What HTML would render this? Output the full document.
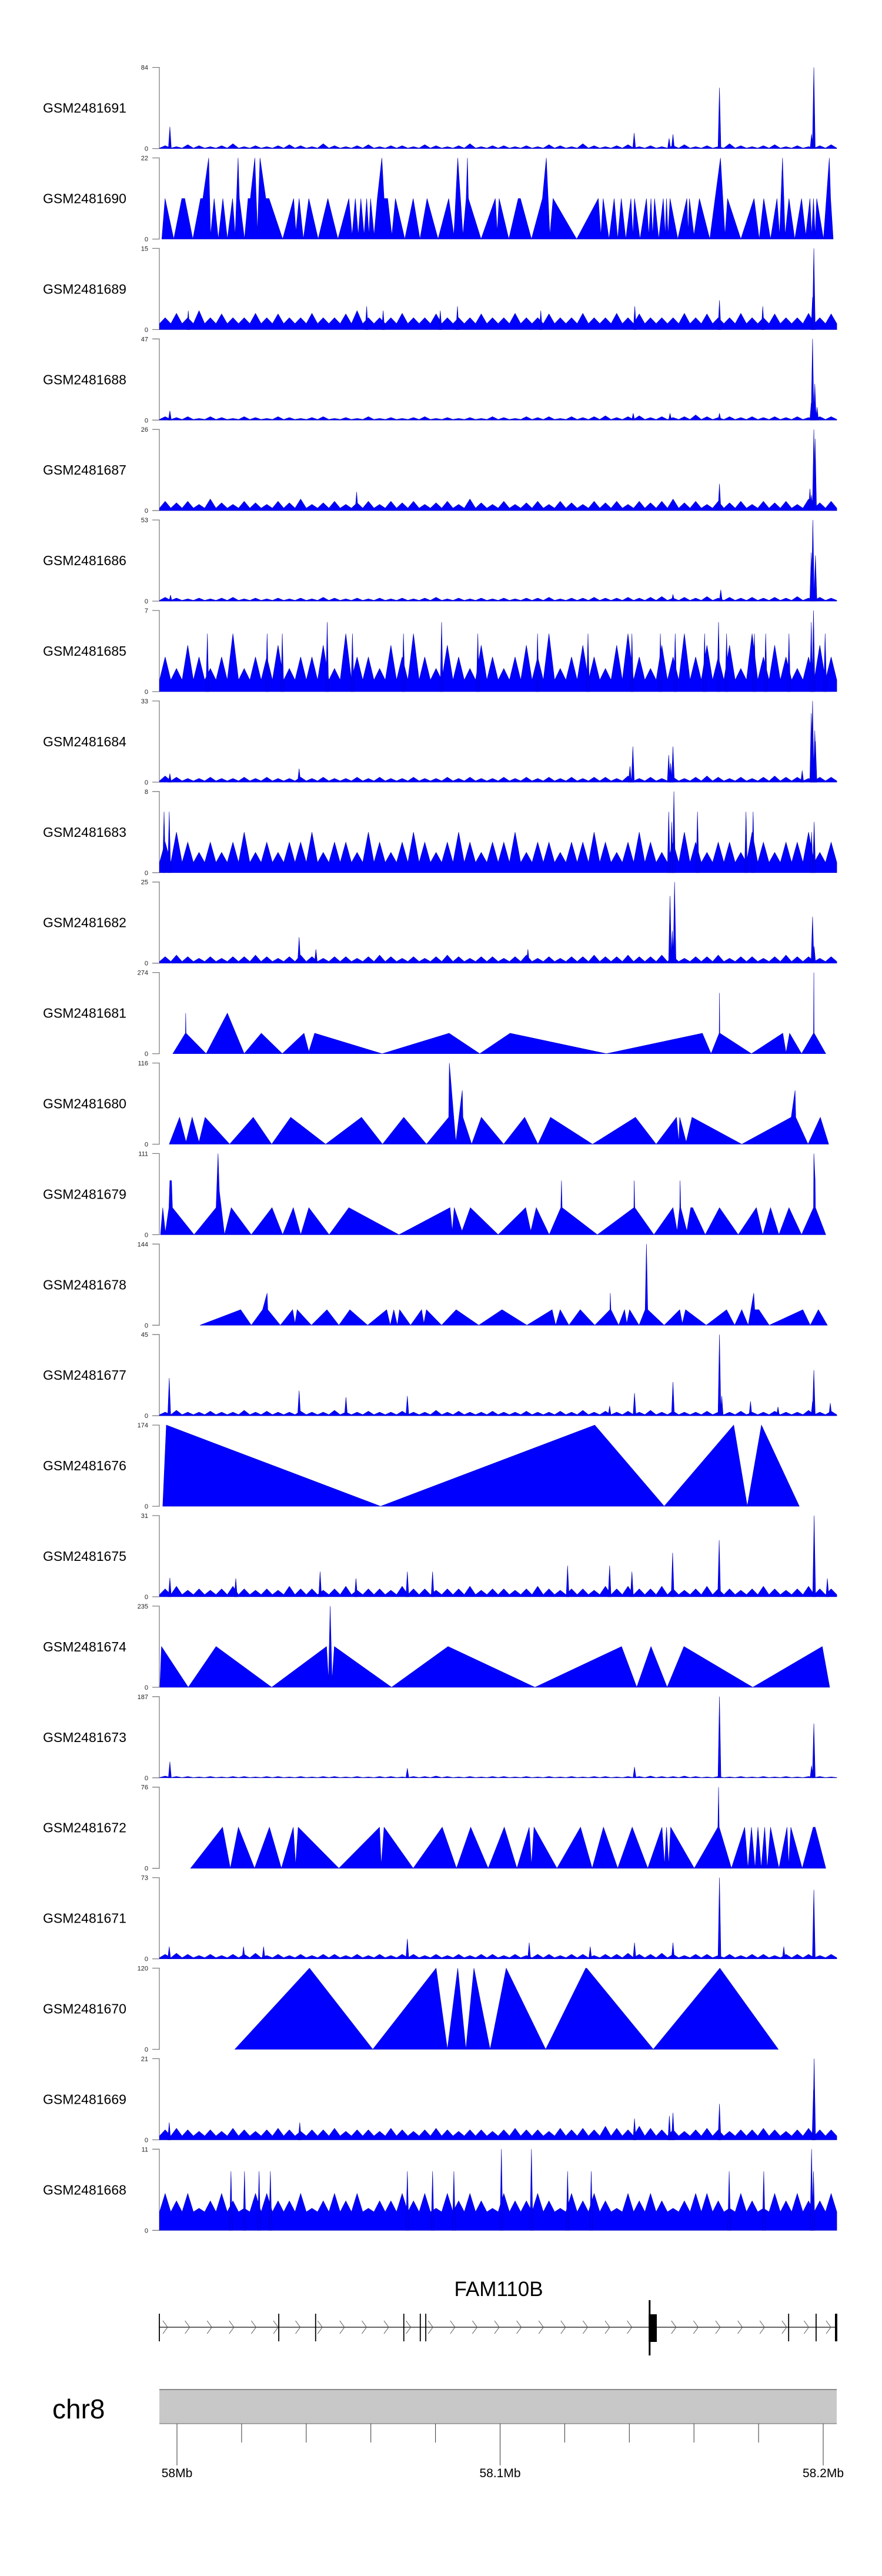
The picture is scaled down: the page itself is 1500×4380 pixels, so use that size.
<!DOCTYPE html>
<html><head><meta charset="utf-8">
<style>
html,body{margin:0;padding:0;background:#fff;}
#wrap{position:relative;width:1500px;height:4380px;overflow:hidden;}
svg{position:absolute;left:0;top:0;}
text{font-family:"Liberation Sans",sans-serif;}
</style></head>
<body>
<div id="wrap">
<svg id="chart" width="1500" height="4380" viewBox="0 0 1500 4380"></svg>
</div>
<script>
// ---------- data ----------
const sampleNames = ["GSM2481691","GSM2481690","GSM2481689","GSM2481688","GSM2481687","GSM2481686","GSM2481685","GSM2481684","GSM2481683","GSM2481682","GSM2481681","GSM2481680","GSM2481679","GSM2481678","GSM2481677","GSM2481676","GSM2481675","GSM2481674","GSM2481673","GSM2481672","GSM2481671","GSM2481670","GSM2481669","GSM2481668"];
const maxValues = [84,22,15,47,26,53,7,33,8,25,274,116,111,144,45,174,31,235,187,76,73,120,21,11];
const axisTicksMb = [58.0,58.02,58.04,58.06,58.08,58.1,58.12,58.14,58.16,58.18,58.2];
const axisLabels = ["58Mb","58.1Mb","58.2Mb"];
const axisLabelMb = [58.0,58.1,58.2];

// dense tracks: noise bins (evenly spanning the region), floor level, peaks [kb from 58Mb, value]
const noise1691 = [3,2,4,3,2,3,5,2,3,2,3,4,3,2,5,3,2,3,4,2,3,3,2,4,3,2,3,5,2,3,3,2,3,2,4,3,2,5,3,2,3,4,2,3,2,3,4,2,3,2,5,3,2,3,4,2,3,2,3,4];
const peaks1691 = [[-2.2,22.6],[141.5,16],[152.3,10.5],[153.5,14.7],[167.9,63],[196.4,15],[197.1,84]];
const noise1689 = [2.2,3,2.2,3.5,2.2,2.9,2.2,2.2,3,2.2,2.9,2.2,2.2,3,2.2,2.2,2.9,3.5,2.2,2.2,2.2,3,2.2,2.2,2.9,2.2,2.2,2.2,2.9,2.2,2.2,3,2.2,2.2,2.9,2.2,2.2,3,2.2,2.2,3,2.2,2.9,2.2,2.2,2.2,3,2.2,2.9,2.2,2.2,3,2.2,2.2,2.9,2.2,2.2,3,2.2,2.9];
const peaks1689 = [[3.5,3.5],[58.7,4.3],[63.8,3.5],[81.5,3.5],[86.8,4.3],[112.6,3.5],[141.7,4.3],[167.9,5.4],[181.3,4.3],[196.7,6],[197.1,15]];
const noise1688 = [2,1.5,2,1,2,1.5,1,2,1.5,1,2,1.5,1,1.5,2,1,1.5,1,2,1,1.5,1,1.5,2,1,1.5,1,1.5,1,2,1.5,1,2,1.5,2,1,2,1.5,2,2.5,1.5,2,2.5,1.5,2,1.5,2,3,2,1.5,2,1.5,2,1.5,2,1.5,2,1.5,2,2];
const peaks1688 = [[-2.2,5.4],[141.2,4],[152.6,4],[167.9,4],[196.3,10],[196.7,47],[197.4,21],[198.1,7.5]];
const noise1687 = [3,2.5,3,2,3.7,2.5,2,3,2.5,2,3,2.5,3.7,2,2.5,3,2,2.5,3,2,3,2.5,3,2,2.5,3,2,3.7,2.5,2,3,2,2.5,3,2,3,2.5,2,3,2.5,3,2,3,2.5,3,3.7,2.5,3,2,3,2.5,3,2,3,2.5,3,2,3.7,2.5,3];
const peaks1687 = [[55.6,6],[167.9,8.6],[195.9,7],[196.4,5],[197.1,26],[197.5,23]];
const noise1686 = [2.5,2,1.5,2,1.5,2,2.5,1.5,2,1.5,2,1.5,2,1.5,2.5,2,1.5,2,1.5,2,1.5,2,1.5,2,2.5,1.5,2,1.5,2,1.5,2,1.5,2,2,2.5,1.5,2,2,2.5,2,2,2.5,2,2.5,3,2,2.5,2,3,2,2.5,2,2.5,2,2.5,2,3,2,2.5,2];
const peaks1686 = [[-2.0,4],[153.5,4.5],[168.3,7.4],[196.3,31.7],[196.8,53],[197.6,29.8]];
const noise1685 = [3,2,4,3,2,3,5,2,3,3,4,2,3,3,4,2,5,3,3,2,4,3,5,3,2,4,3,2,4,3,2,3,4,3,5,2,3,4,3,2,4,5,3,2,4,3,5,3,4,3,4,2,5,3,4,3,2,3,4,3];
const peaks1685 = [[9.4,5],[27.9,5],[32.6,5],[46.5,6],[54.3,5],[70.1,5],[81.9,6],[93.1,5],[111.6,5],[127.2,5],[140.8,5],[149.6,5],[154.2,5],[163.3,5],[167.6,6],[170.1,5],[178.7,5],[182.2,5],[189.4,5],[196.3,6],[197.0,7],[200.6,5]];
const noise1684 = [2.5,2,1.5,1.5,2,1.5,1.5,2,1.5,2,1.5,1.5,2,1.5,2,1.5,1.5,2,1.5,2,1.5,1.5,2,1.5,1.5,2,1.5,2,1.5,1.5,2,1.5,2,1.5,2,1.5,2,1.5,2,2,1.5,2.5,1.5,2,1.5,2,1.5,2,2.5,2,1.5,2,1.5,2,2.5,2,2,1.5,2,2];
const peaks1684 = [[-2.2,3.5],[37.8,5.5],[140.2,6.5],[141.1,14.5],[152.2,11],[152.8,7.7],[153.5,14.5],[193.5,4.7],[196.3,28],[196.7,33],[197.4,21],[197.6,16.6]];
const noise1683 = [3,4,3,2,3,2,3,4,2,3,2,3,3,4,2,3,3,2,4,3,2,3,4,3,2,3,4,3,2,3,3,4,2,3,3,2,3,3,4,3,2,3,4,3,2,3,4,3,2,3,3,2,4,3,2,3,3,4,2,3];
const peaks1683 = [[-4.0,6],[-2.4,6],[152.2,6],[153.1,5],[153.8,8],[161.1,6],[176.1,6],[178.3,6],[196.4,4],[197.2,5]];
const noise1682 = [2,2.5,2,1.5,2,1.5,2,2,2.5,2,1.5,2,2.5,2,1.5,2,2,1.5,2,2.5,2,1.5,2,1.5,2,2.5,2,1.5,2,2,1.5,2,2.5,1.5,2,1.5,2,2,2.5,2,2,2.5,2,2,2.5,2,1.5,2,2,2.5,1.5,2,2,1.5,2,2.5,2,2,1.5,2];
const peaks1682 = [[37.8,8],[43.0,4.3],[108.6,4.3],[152.6,20.7],[153.3,10],[154.0,25],[196.7,14.3],[197.2,5.2]];
const noise1677 = [2,3,2,2,2.5,2,2,3,2,2.5,2,2,2.5,2,2,3,2,2,2.5,2,2,2.5,2,2,3,2,2.5,2,2,2.5,2,2,2.5,2,2,2.5,2,3,2,2.5,2,2.5,2,3,2,2.5,2,2,2.5,2,2,2.5,2,2,2.5,2,2,3,2,2.5];
const peaks1677 = [[-2.4,20.9],[37.8,13.9],[52.3,10.3],[71.3,11],[133.9,5.4],[141.6,12.6],[153.5,18.7],[167.9,45],[168.6,11],[177.5,8],[186.0,5],[196.7,8],[197.1,25.3],[202.2,7]];
const noise1675 = [3,4,2.5,3,2.5,3,4,3,2.5,3,2.5,4,3,3,2.5,3,4,2.5,3,3,2.5,4,3,3,2.5,3,3,4,2.5,3,3,2.5,3,4,3,2.5,3,3,2.5,4,3,4,3,3,4,3,2.5,3,4,3,3,2.5,3,4,3,2.5,3,4,3,3];
const peaks1675 = [[-2.2,7.2],[18.2,7],[44.3,9.6],[55.4,7],[71.3,9.6],[79.1,9.6],[120.9,11.9],[133.9,11.9],[140.8,9.6],[153.4,16.8],[167.8,21.6],[197.2,31],[201.3,7]];
const noise1673 = [4,3,3,2,3,2,3,3,2,3,3,2,3,2,3,3,2,3,2,3,3,2,3,3,4,3,2,3,2,3,3,2,3,2,3,2,3,2,3,3,2,3,3,4,3,3,4,3,2,3,2,3,2,3,2,3,2,3,3,2];
const peaks1673 = [[-2.2,37],[71.3,22],[141.6,25],[167.9,187],[196.4,28],[197.1,125]];
const noise1671 = [4,5,4,3,4,3,4,4,5,3,4,3,4,3,4,4,3,4,3,4,3,4,4,3,4,3,4,3,4,4,3,4,3,4,4,3,4,4,3,4,4,5,4,4,5,4,3,4,4,3,4,3,4,4,3,4,4,4,3,4];
const peaks1671 = [[-2.4,11],[20.6,11],[26.8,11],[71.3,18],[109.0,14.5],[127.9,11],[141.6,14.5],[153.5,14.5],[167.9,73],[187.8,11],[197.1,62]];
const noise1669 = [2.6,3,2.6,2.2,2.6,2.2,3,2.6,2.2,2.6,3,2.6,2.2,2.6,2.6,3,2.2,2.6,2.6,2.2,3,2.6,2.2,2.6,3,2.6,2.2,2.6,2.6,2.2,2.6,3,2.6,2.6,2.2,3,2.6,3,2.6,3.5,3,2.6,3.5,3,2.6,2.6,2.2,2.6,3,2.6,2.2,2.6,2.6,3,2.6,2.2,2.6,3,2.6,2.6];
const peaks1669 = [[-2.4,4.5],[38.0,4.5],[141.6,5.5],[152.4,6.2],[153.5,7],[167.9,9.3],[197.0,13],[197.2,21]];
const noise1668 = [5,4,5,3,4,5,4,3,5,5,4,4,5,3,4,5,4,5,3,4,4,5,4,5,3,5,4,5,4,3,5,4,4,5,4,3,5,4,5,4,3,5,4,5,4,3,4,5,5,4,3,5,4,3,5,4,5,4,4,5];
const peaks1668 = [[100.4,11],[109.7,11],[196.4,11],[16.7,8],[20.9,8],[25.4,8],[28.9,8],[71.3,8],[79.1,8],[85.7,8],[120.9,8],[128.2,8],[170.9,8],[181.6,8],[197.0,8]];

// sparse (triangle) tracks: [kb from 58Mb, value]
const pts1690 = [[-4.7,0],[-3.7,11],[-1.0,0],[1.5,11],[2.4,11],[4.9,0],[7.3,11],[8.0,11],[9.8,22],[10.4,1],[11.5,11],[12.8,0],[14.2,11],[15.6,0],[17.2,11],[18.0,1],[18.9,22],[19.3,11],[20.9,0],[22.0,11],[22.7,11],[24.1,22],[24.9,2],[25.7,22],[27.5,11],[28.5,11],[32.7,0],[36.1,11],[36.8,2],[37.8,11],[39.1,0],[40.8,11],[43.7,0],[46.7,11],[49.8,0],[53.2,11],[54.2,1],[55.2,11],[56.1,1],[56.9,11],[57.9,1],[58.7,11],[59.4,1],[59.9,11],[61.0,1],[62.0,11],[63.4,22],[64.1,11],[65.2,11],[66.5,1],[67.6,11],[70.5,0],[73.1,11],[75.2,0],[77.4,11],[80.8,0],[84.1,11],[85.7,1],[86.9,22],[88.5,1],[89.5,11],[89.9,22],[90.2,11],[94.1,0],[98.5,11],[99.1,2],[99.7,11],[102.7,0],[105.6,11],[106.3,11],[109.7,0],[113.1,11],[114.3,22],[115.4,1],[116.4,11],[123.7,0],[130.4,11],[131.2,1],[131.9,11],[133.7,0],[135.3,11],[136.4,0],[137.5,11],[138.9,0],[140.5,11],[141.1,1],[141.6,11],[143.3,0],[145.3,11],[146.0,1],[146.7,11],[147.2,1],[147.8,11],[149.1,0],[150.5,11],[151.1,1],[151.5,11],[152.0,1],[152.6,11],[155.0,0],[157.8,11],[158.2,2],[158.6,11],[160.0,1],[161.7,11],[164.9,0],[168.2,22],[169.6,1],[170.4,11],[174.5,0],[178.6,11],[180.2,0],[181.6,11],[183.7,0],[185.7,11],[186.5,1],[187.4,22],[188.2,1],[189.4,11],[191.2,0],[193.3,11],[194.6,1],[195.9,11],[196.4,1],[197.0,11],[197.5,1],[198.0,11],[200.1,0],[201.9,22],[202.3,11],[203.1,0]];
const pts1681 = [[-1.3,0],[2.6,69],[2.7,137],[2.8,69],[9.0,0],[15.6,137],[20.8,0],[26.1,69],[32.6,0],[39.3,69],[40.8,7],[42.6,69],[63.5,0],[84.2,69],[93.7,0],[103.1,69],[132.9,0],[162.6,69],[165.3,0],[167.8,69],[167.9,205],[168.0,69],[177.8,0],[187.5,69],[188.5,3],[189.6,69],[193.3,0],[197.0,69],[197.1,274],[197.2,69],[200.8,0]];
const pts1680 = [[-2.4,0],[0.8,38.5],[2.8,3],[4.7,38.5],[6.8,3],[8.7,38.5],[16.3,0],[23.6,38.5],[29.3,0],[35.2,38.5],[46.0,0],[57.1,38.5],[63.6,0],[70.2,38.5],[77.2,0],[84.1,38.5],[84.3,116],[86.3,3],[88.3,77],[88.5,38.5],[91.2,0],[94.2,38.5],[101.1,0],[107.6,38.5],[111.7,0],[115.6,38.5],[128.6,0],[141.9,38.5],[148.3,0],[154.6,38.5],[155.3,3],[155.6,38.5],[157.6,3],[159.4,38.5],[174.8,0],[190.1,38.5],[191.3,77],[191.5,38.5],[195.3,0],[199.1,38.5],[201.7,0]];
const pts1679 = [[-5.1,0],[-4.4,37],[-3.6,3],[-2.5,37],[-2.2,74],[-1.7,74],[-1.4,37],[5.3,0],[12.1,37],[12.7,111],[13.1,60],[14.7,0],[16.8,37],[23.0,0],[29.4,37],[32.7,0],[36.0,37],[38.3,0],[40.8,37],[47.1,0],[53.2,37],[68.7,0],[84.5,37],[85.2,5],[85.8,37],[88.2,5],[90.8,37],[99.4,0],[107.9,37],[109.5,5],[111.2,37],[115.2,0],[118.8,37],[119.0,74],[119.2,37],[130.1,0],[141.4,37],[141.5,74],[141.7,37],[147.6,0],[153.5,37],[154.8,5],[155.6,37],[155.7,74],[155.9,37],[157.8,5],[159.0,37],[159.6,37],[163.5,0],[167.9,37],[173.7,0],[179.3,37],[181.3,0],[183.7,37],[186.3,0],[189.4,37],[193.3,0],[197.0,37],[197.1,111],[197.5,74],[197.6,37],[200.8,0]];
const pts1678 = [[7.1,0],[19.7,27.6],[23.0,0],[26.5,27.6],[27.9,57],[28.1,27.6],[32.0,0],[35.8,27.6],[36.5,3],[37.2,27.6],[41.6,0],[46.4,27.6],[50.1,0],[53.5,27.6],[59.0,0],[64.9,27.6],[66.0,0],[67.1,27.6],[68.2,0],[68.9,27.6],[72.3,0],[75.7,27.6],[76.4,3],[77.2,27.6],[81.9,0],[86.4,27.6],[93.4,0],[100.6,27.6],[108.3,0],[116.1,27.6],[117.2,0],[118.6,27.6],[121.3,0],[124.8,27.6],[129.3,0],[134.0,27.6],[134.1,57],[134.3,27.6],[136.7,0],[138.5,27.6],[139.2,3],[140.1,27.6],[143.0,0],[144.9,27.6],[145.3,144],[145.7,27.6],[150.8,0],[155.6,27.6],[156.4,3],[157.4,27.6],[163.8,0],[170.1,27.6],[172.6,0],[174.8,27.6],[176.8,0],[178.5,57],[178.8,27.6],[180.1,27.6],[183.3,0],[193.7,27.6],[196.0,0],[198.5,27.6],[201.3,0]];
const pts1676 = [[-4.4,0],[-3.3,174],[63.0,0],[129.3,174],[150.8,0],[172.3,174],[176.5,0],[180.9,174],[192.6,0]];
const pts1674 = [[-5.3,0],[-4.8,118],[3.5,0],[12.1,118],[29.3,0],[46.3,118],[46.9,20],[47.4,235],[48.0,20],[48.7,118],[66.4,0],[83.9,118],[110.8,0],[137.6,118],[142.3,0],[146.7,118],[151.7,0],[156.9,118],[178.2,0],[199.7,118],[202.0,0]];
const pts1672 = [[4.2,0],[14.1,38.5],[16.5,0],[19.0,38.5],[24.0,0],[28.6,38.5],[32.3,0],[36.0,38.5],[36.7,3],[37.5,38.5],[50.1,0],[62.7,38.5],[63.2,3],[64.1,38.5],[73.1,0],[82.1,38.5],[86.5,0],[90.9,38.5],[96.3,0],[101.3,38.5],[105.2,0],[109.0,38.5],[109.7,3],[110.5,38.5],[117.6,0],[124.9,38.5],[128.5,0],[132.0,38.5],[136.4,0],[140.9,38.5],[145.7,0],[150.1,38.5],[150.9,3],[151.5,38.5],[152.2,3],[152.8,38.5],[160.1,0],[167.4,38.5],[167.6,76],[167.8,38.5],[171.6,0],[175.7,38.5],[176.7,0],[177.8,38.5],[178.9,0],[179.8,38.5],[180.8,0],[181.9,38.5],[182.7,0],[183.7,38.5],[186.3,0],[188.8,38.5],[189.3,3],[190.0,38.5],[193.5,0],[196.9,38.5],[197.5,38.5],[200.8,0]];
const pts1670 = [[17.9,0],[41.0,120],[60.6,0],[80.2,120],[83.7,0],[86.9,120],[89.4,0],[91.9,120],[96.9,0],[101.9,120],[114.1,0],[126.5,120],[126.8,120],[147.4,0],[168.0,120],[186.1,0]];

// track kinds, in plot order
const trackKinds = ["dense","sparse","dense","dense","dense","dense","dense","dense","dense","dense","sparse","sparse","sparse","sparse","dense","sparse","dense","sparse","dense","sparse","dense","sparse","dense","dense"];
const denseNoise = [noise1691,null,noise1689,noise1688,noise1687,noise1686,noise1685,noise1684,noise1683,noise1682,null,null,null,null,noise1677,null,noise1675,null,noise1673,null,noise1671,null,noise1669,noise1668];
const densePeaks = [peaks1691,null,peaks1689,peaks1688,peaks1687,peaks1686,peaks1685,peaks1684,peaks1683,peaks1682,null,null,null,null,peaks1677,null,peaks1675,null,peaks1673,null,peaks1671,null,peaks1669,peaks1668];
const denseFloor = [0.5,0,1.1,0.4,0.8,0.5,1,0.5,1,0.5,0,0,0,0,0.6,0,0.8,0,0.5,0,1,0,1,2.5];
const sparsePoints = [null,pts1690,null,null,null,null,null,null,null,null,pts1681,pts1680,pts1679,pts1678,null,pts1676,null,pts1674,null,pts1672,null,pts1670,null,null];

// gene model (kb from 58Mb)
const geneStartKb = -5.46, geneEndKb = 204.0;
const exonKb = [-5.46,31.5,42.9,70.2,75.3,77.0,189.3,197.8];
const bigExonKb = [146.0,148.5];

// ---------- layout ----------
const svg = document.getElementById('chart');
const NS = 'http://www.w3.org/2000/svg';
const PX0 = 301, PX_PER_KB = 5.495;      // 58Mb at x=301
const PLOT_L = 271, PLOT_R = 1423;
const FIRST_BASE = 252.6, TRACK_STEP = 153.9, TRACK_H = 138;
const DOMAIN_L = -5.4, DOMAIN_R = 204.2;
function xs(kb){ return PX0 + kb*PX_PER_KB; }
function mbx(mb){ return xs((mb-58)*1000); }
function mk(tag, attrs){ const e=document.createElementNS(NS,tag); for(const k in attrs) e.setAttribute(k,attrs[k]); return e; }

sampleNames.forEach((name, i) => {
  const base = FIRST_BASE + i*TRACK_STEP;
  const top = base - TRACK_H;
  const max = maxValues[i];
  const ys = v => base - Math.min(v,max)/max*TRACK_H;
  const g = mk('g',{});
  
  
  svg.appendChild(g);

  const lab = mk('text',{x:73,y:top+TRACK_H/2+8,'font-size':23,fill:'#000'});
  lab.textContent = name;
  
  
  g.appendChild(lab);

  const ax = mk('path',{d:`M259 ${top}H${PLOT_L}V${base}H259`,fill:'none',stroke:'#7f7f7f','stroke-width':1.3});
  
  
  g.appendChild(ax);
  const tMax = mk('text',{x:252,y:top+4,'font-size':11,'text-anchor':'end',fill:'#222'});
  tMax.textContent = String(max);
  
  
  g.appendChild(tMax);
  const tMin = mk('text',{x:252,y:base+4,'font-size':11,'text-anchor':'end',fill:'#222'});
  tMin.textContent = '0';
  
  
  g.appendChild(tMin);

  if (trackKinds[i] === 'sparse') {
    const pts = sparsePoints[i];
    let d = `M${xs(pts[0][0]).toFixed(1)} ${base}`;
    pts.forEach(p => { d += `L${xs(p[0]).toFixed(1)} ${ys(p[1]).toFixed(1)}`; });
    d += `L${xs(pts[pts.length-1][0]).toFixed(1)} ${base}Z`;
    const a = mk('path',{d:d,fill:'#0000ff',stroke:'#0000c8','stroke-width':0.6});
    
    
    g.appendChild(a);
  } else {
    const noise = denseNoise[i], fl = denseFloor[i];
    const bw = (DOMAIN_R - DOMAIN_L)/noise.length;
    let d = `M${xs(DOMAIN_L).toFixed(1)} ${base}L${xs(DOMAIN_L).toFixed(1)} ${ys(fl).toFixed(1)}`;
    noise.forEach((v, k) => {
      const s = DOMAIN_L + k*bw;
      d += `L${xs(s+bw*0.5).toFixed(1)} ${ys(v).toFixed(1)}L${xs(s+bw).toFixed(1)} ${ys(fl).toFixed(1)}`;
    });
    d += `L${xs(DOMAIN_R).toFixed(1)} ${base}Z`;
    const a = mk('path',{d:d,fill:'#0000ff',stroke:'#0000b0','stroke-width':0.6});
    
    
    g.appendChild(a);
    densePeaks[i].forEach(p => {
      const pk = mk('path',{d:`M${xs(p[0]-0.45).toFixed(1)} ${base}L${xs(p[0]).toFixed(1)} ${ys(p[1]).toFixed(1)}L${xs(p[0]+0.45).toFixed(1)} ${base}Z`,fill:'#0000ff',stroke:'#0000b0','stroke-width':0.6});
      
      
      g.appendChild(pk);
    });
  }
});

// ---------- gene track ----------
const gg = mk('g',{});


svg.appendChild(gg);
const gy = 3957;
const gt = mk('text',{x:848,y:3904,'font-size':35,'text-anchor':'middle',fill:'#000'});
gt.textContent = 'FAM110B';


gg.appendChild(gt);
const gl = mk('line',{x1:xs(geneStartKb),x2:xs(geneEndKb),y1:gy,y2:gy,stroke:'#333','stroke-width':1.5});


gg.appendChild(gl);
for (let x = 277; x < 1418; x += 37.6) {
  const ch = mk('path',{d:`M${x} ${gy-11}L${x+8} ${gy}L${x} ${gy+11}`,fill:'none',stroke:'#555','stroke-width':1});
  
  
  gg.appendChild(ch);
}
exonKb.forEach(k => {
  const e = mk('line',{x1:xs(k),x2:xs(k),y1:3934,y2:3981,stroke:'#000','stroke-width':1.8});
  
  
  gg.appendChild(e);
});
const be = mk('rect',{x:xs(bigExonKb[0]),y:3935,width:xs(bigExonKb[1])-xs(bigExonKb[0]),height:47,fill:'#000'});


gg.appendChild(be);
const bl = mk('line',{x1:xs(bigExonKb[0])+1.5,x2:xs(bigExonKb[0])+1.5,y1:3911,y2:4005,stroke:'#000','stroke-width':3});


gg.appendChild(bl);
const ee = mk('rect',{x:xs(geneEndKb)-2,y:3934,width:4,height:47,fill:'#000'});


gg.appendChild(ee);

// ---------- ideogram / axis ----------
const ag = mk('g',{});


svg.appendChild(ag);
const chr = mk('text',{x:89,y:4112,'font-size':46,fill:'#000'});
chr.textContent = 'chr8';


ag.appendChild(chr);
const bar = mk('rect',{x:PLOT_L,y:4063,width:PLOT_R-PLOT_L,height:58,fill:'#c8c8c8'});


ag.appendChild(bar);
const bt = mk('line',{x1:PLOT_L,x2:PLOT_R,y1:4063,y2:4063,stroke:'#8a8a8a','stroke-width':2});


ag.appendChild(bt);
const bb = mk('line',{x1:PLOT_L,x2:PLOT_R,y1:4121,y2:4121,stroke:'#666','stroke-width':1});


ag.appendChild(bb);
axisTicksMb.forEach(mb => {
  const major = axisLabelMb.some(m => Math.abs(m-mb) < 1e-6);
  const t = mk('line',{x1:mbx(mb),x2:mbx(mb),y1:4121,y2:major?4192:4153,stroke:'#333','stroke-width':1});
  
  
  ag.appendChild(t);
});
axisLabels.forEach((s, k) => {
  const t = mk('text',{x:mbx(axisLabelMb[k]),y:4212,'font-size':21,'text-anchor':'middle',fill:'#000'});
  t.textContent = s;
  
  
  ag.appendChild(t);
});
</script>
</body></html>
